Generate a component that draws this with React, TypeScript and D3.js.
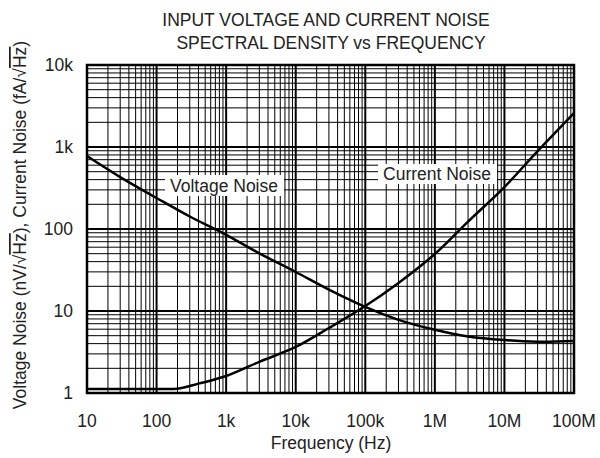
import React from "react";
import * as d3 from "d3";

const freqs = [10, 30, 100, 300, 1e3, 3e3, 1e4, 3e4, 1e5, 3e5, 1e6, 3e6, 1e7, 3e7, 1e8];
const voltageNoise = [776, 430, 239, 142, 85, 50.5, 29.9, 18.2, 11.2, 7.8, 5.9, 4.9, 4.42, 4.22, 4.3];
const currentFreqs = [10, 100, 200, 400, 1e3, 3e3, 1e4, 3e4, 1e5, 3e5, 1e6, 3e6, 1e7, 3e7, 1e8];
const currentNoise = [1.12, 1.12, 1.13, 1.3, 1.61, 2.4, 3.64, 6.2, 11.5, 22, 49.6, 123, 325, 890, 2590];
const xTicks = [10, 100, 1e3, 1e4, 1e5, 1e6, 1e7, 1e8];
const xTickLabels = ["10", "100", "1k", "10k", "100k", "1M", "10M", "100M"];
const yTicks = [1, 10, 100, 1e3, 1e4];
const yTickLabels = ["1", "10", "100", "1k", "10k"];

const W = 600, H = 458;
const L = 87, R = 574, T = 65, B = 393;
const FONT = "'Liberation Sans', Arial, Helvetica, sans-serif";

export default function App() {
  const x = d3.scaleLog().domain([10, 1e8]).range([L, R]);
  const y = d3.scaleLog().domain([1, 1e4]).range([B, T]);
  const minorX: number[] = [];
  for (let d = 10; d < 1e8; d *= 10) for (let k = 2; k <= 9; k++) minorX.push(d * k);
  const minorY: number[] = [];
  for (let d = 1; d < 1e4; d *= 10) for (let k = 2; k <= 9; k++) minorY.push(d * k);
  const line = d3.line<[number, number]>().x(d => x(d[0])).y(d => y(d[1])).curve(d3.curveCatmullRom.alpha(0.5));
  const vPath = line(freqs.map((f, i) => [f, voltageNoise[i]]))!;
  const cPath = line(currentFreqs.map((f, i) => [f, currentNoise[i]]))!;
  const fs = 17.5;
  const col = "#222";
  return (
    <svg width={W} height={H} style={{ position: "absolute", left: 0, top: 0 }} fontFamily={FONT}>
      <rect width={W} height={H} fill="#fff" />
      <text x={326} y={26} textAnchor="middle" fontSize={17.5} fill={col}>INPUT VOLTAGE AND CURRENT NOISE</text>
      <text x={331} y={49} textAnchor="middle" fontSize={17.5} fill={col}>SPECTRAL DENSITY vs FREQUENCY</text>
      {minorX.map(v => (
        <line key={"mx" + v} x1={x(v)} x2={x(v)} y1={T} y2={B} stroke="#000" strokeWidth={1} />
      ))}
      {minorY.map(v => (
        <line key={"my" + v} x1={L} x2={R} y1={y(v)} y2={y(v)} stroke="#000" strokeWidth={1} />
      ))}
      {xTicks.map(v => (
        <line key={"Mx" + v} x1={x(v)} x2={x(v)} y1={T} y2={B} stroke="#000" strokeWidth={2} />
      ))}
      {yTicks.map(v => (
        <line key={"My" + v} x1={L} x2={R} y1={y(v)} y2={y(v)} stroke="#000" strokeWidth={2} />
      ))}
      <rect x={L} y={T} width={R - L} height={B - T} fill="none" stroke="#000" strokeWidth={2.5} />
      <path d={vPath} fill="none" stroke="#000" strokeWidth={2.5} />
      <path d={cPath} fill="none" stroke="#000" strokeWidth={2.5} />
      <rect x={165} y={175} width={119} height={21} fill="#fff" />
      <text x={224} y={192} textAnchor="middle" fontSize={fs} fill={col}>Voltage Noise</text>
      <rect x={378} y={164} width={119} height={20} fill="#fff" />
      <text x={437} y={180} textAnchor="middle" fontSize={fs} fill={col}>Current Noise</text>
      {yTicks.map((v, i) => (
        <text key={"yl" + v} x={73} y={y(v) + 6} textAnchor="end" fontSize={fs} fill={col}>{yTickLabels[i]}</text>
      ))}
      {xTicks.map((v, i) => (
        <text key={"xl" + v} x={x(v)} y={427} textAnchor="middle" fontSize={fs} fill={col}>{xTickLabels[i]}</text>
      ))}
      <text x={331} y={449} textAnchor="middle" fontSize={fs} fill={col}>Frequency (Hz)</text>
      <text transform="translate(26,225) rotate(-90)" textAnchor="middle" fontSize={fs} fill={col}>
        Voltage Noise (nV/√<tspan style={{ textDecoration: "overline" }}>Hz</tspan>), Current Noise (fA/√<tspan style={{ textDecoration: "overline" }}>Hz</tspan>)
      </text>
    </svg>
  );
}
